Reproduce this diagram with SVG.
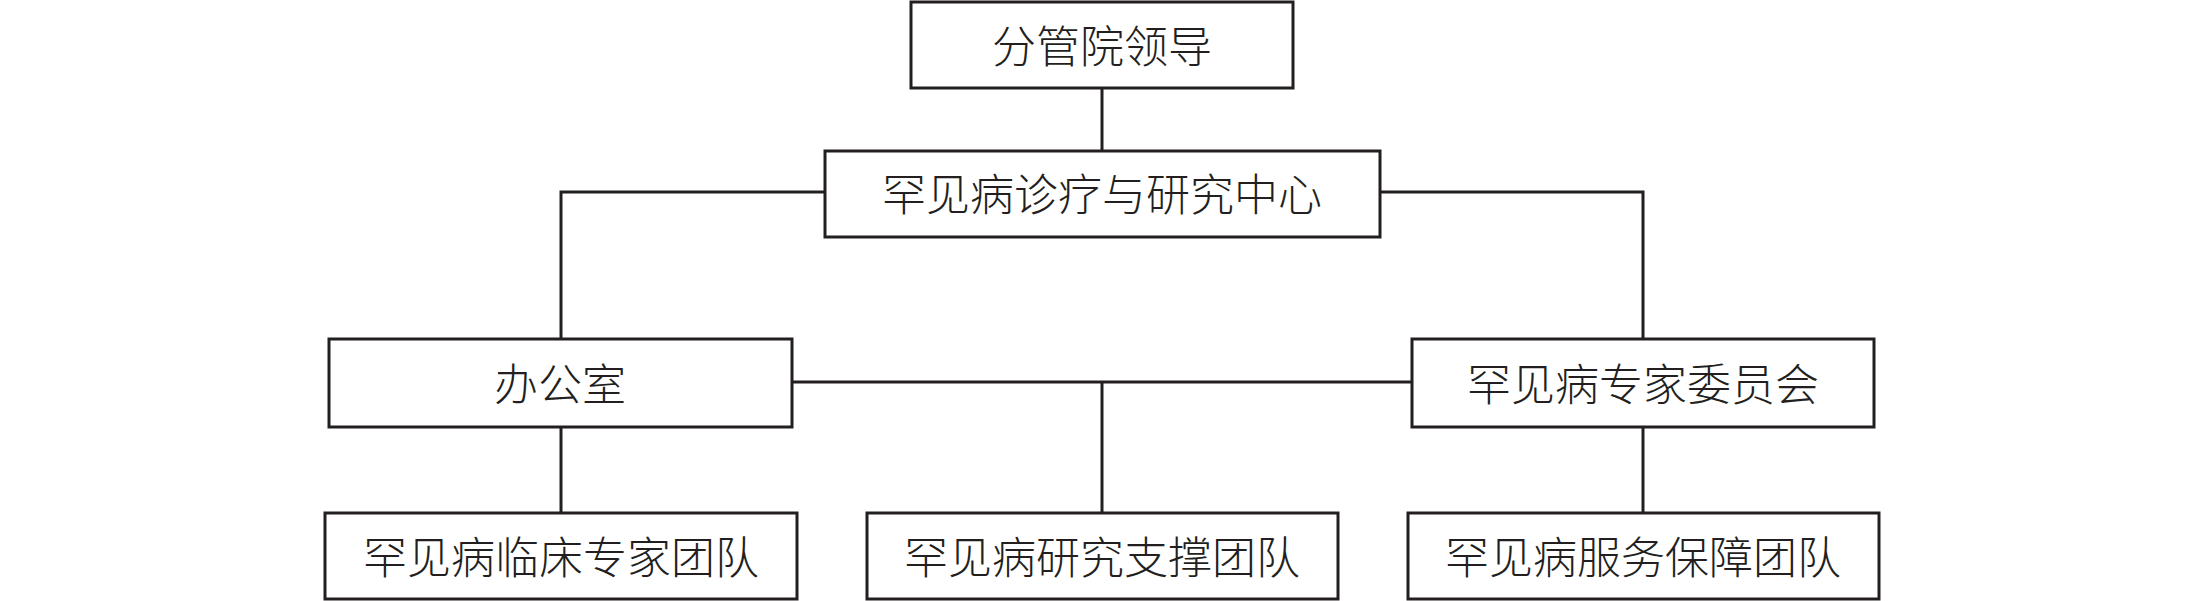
<svg xmlns="http://www.w3.org/2000/svg" width="2205" height="601" viewBox="0 0 2205 601">
<style>
.box{fill:#ffffff;stroke:#231f20;stroke-width:3}
.lbl{font-family:"Noto Sans CJK SC","Noto Sans",sans-serif;font-size:44px;font-weight:300;fill:#231f20;text-anchor:middle;dominant-baseline:central}
.conn{fill:none;stroke:#231f20;stroke-width:3}
</style>
<rect width="2205" height="601" fill="#ffffff"/>
<g id="connectors">
<path class="conn" d="M1102,88 V151"/>
<path class="conn" d="M825,192 H561 V339"/>
<path class="conn" d="M1380,192 H1643 V339"/>
<path class="conn" d="M792,382 H1412"/>
<path class="conn" d="M1102,382 V513"/>
<path class="conn" d="M561,427 V513"/>
<path class="conn" d="M1643,427 V513"/>
</g>
<g id="leader">
<rect class="box" x="911" y="2" width="382" height="86"/>
<text class="lbl" x="1102" y="44">分管院领导</text>
</g>
<g id="center">
<rect class="box" x="825" y="151" width="555" height="86"/>
<text class="lbl" x="1102" y="192">罕见病诊疗与研究中心</text>
</g>
<g id="office">
<rect class="box" x="329" y="339" width="463" height="88"/>
<text class="lbl" x="560" y="382">办公室</text>
</g>
<g id="committee">
<rect class="box" x="1412" y="339" width="462" height="88"/>
<text class="lbl" x="1643" y="382">罕见病专家委员会</text>
</g>
<g id="clinical">
<rect class="box" x="325" y="513" width="472" height="86"/>
<text class="lbl" x="561" y="555">罕见病临床专家团队</text>
</g>
<g id="research">
<rect class="box" x="867" y="513" width="471" height="86"/>
<text class="lbl" x="1102" y="555">罕见病研究支撑团队</text>
</g>
<g id="service">
<rect class="box" x="1408" y="513" width="471" height="86"/>
<text class="lbl" x="1643" y="555">罕见病服务保障团队</text>
</g>
</svg>
